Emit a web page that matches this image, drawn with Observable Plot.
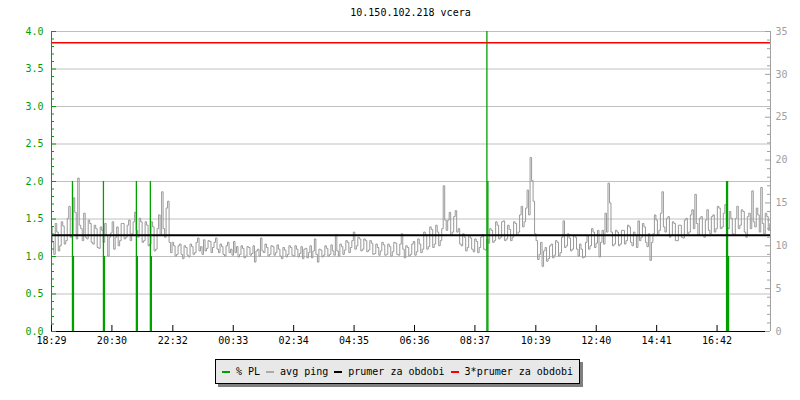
<!DOCTYPE html>
<html><head><meta charset="utf-8">
<script src="https://cdn.jsdelivr.net/npm/d3@7"></script>
<script src="https://cdn.jsdelivr.net/npm/@observablehq/plot@0.6"></script>
<style>
body{margin:0;background:#fff;}
#wrap{position:relative;width:800px;height:400px;font-family:"DejaVu Sans Mono",monospace;font-size:10px;overflow:hidden;}
#chart{position:absolute;left:0;top:0;}
#title{position:absolute;left:51px;width:719px;top:7px;text-align:center;color:#000;}
#legend{position:absolute;left:215px;top:359px;height:25px;width:365px;background:#e8e8e8;border:1px solid #000;box-shadow:3px 3px 0 #7f7f7f;display:flex;align-items:center;padding-left:6px;box-sizing:border-box;}
.sw{width:8px;height:2px;margin-right:6px;flex:none;}
.it{margin-right:6px;white-space:pre;color:#000;}
</style></head>
<body>
<div id="wrap"><div id="chart"></div><div id="title"></div><div id="legend"></div></div>
<script>
// ---- data ----
const title = "10.150.102.218 vcera";
const pingStepMinutes = 3;            // minutes between avg ping samples, starting 18:29
const avgPing = [                     // avg ping (ms), right axis
  12.2, 10.4, 9.0, 12.6, 11.6, 9.4, 10.0, 12.8, 12.3, 10.2, 10.6, 13.2, 14.6, 11.0, 11.2, 15.6, 13.9, 10.8, 17.9, 12.4,
  12.0, 10.6, 13.8, 11.0, 10.8, 13.0, 12.6, 10.4, 10.2, 12.4, 12.0, 9.8, 9.7, 12.2, 11.8, 10.4, 12.6, 11.2, 8.8, 11.0,
  11.5, 12.8, 9.6, 11.0, 12.2, 10.0, 10.6, 12.6, 12.6, 10.8, 11.0, 12.4, 13.0, 10.6, 11.4, 12.8, 13.9, 11.8, 11.0, 13.2,
  12.8, 10.4, 10.6, 12.8, 12.4, 10.0, 10.2, 12.8, 12.2, 9.4, 9.6, 12.0, 13.6, 11.2, 16.3, 12.0, 11.0, 14.4, 15.2, 10.4,
  9.2, 10.4, 10.0, 8.8, 9.0, 10.0, 10.2, 9.0, 8.5, 10.0, 9.8, 8.9, 8.7, 10.2, 9.9, 9.0, 9.2, 10.4, 10.9, 9.4,
  9.9, 9.0, 10.7, 9.4, 9.7, 10.6, 10.5, 9.2, 9.8, 10.4, 10.9, 9.6, 9.2, 10.2, 9.9, 9.0, 8.8, 10.0, 10.4, 9.2,
  9.6, 8.9, 10.5, 9.2, 9.9, 8.7, 9.0, 10.0, 9.7, 8.6, 8.8, 9.9, 9.8, 8.9, 9.1, 10.0, 8.1, 9.4, 9.6, 8.8,
  10.9, 9.4, 9.2, 10.2, 9.8, 8.8, 9.0, 10.0, 9.9, 8.9, 9.2, 10.1, 9.6, 8.8, 8.5, 9.8, 9.5, 8.7, 9.0, 10.0,
  9.8, 8.9, 8.8, 10.0, 9.6, 8.7, 9.1, 9.9, 8.5, 9.6, 9.7, 8.6, 9.2, 10.0, 8.6, 9.4, 10.8, 9.0, 8.1, 9.6,
  9.5, 8.7, 8.9, 10.0, 9.7, 8.8, 9.0, 10.1, 9.4, 8.9, 11.3, 9.4, 8.8, 10.2, 9.9, 9.0, 9.5, 10.6, 10.4, 9.2,
  9.8, 10.6, 11.6, 9.6, 10.0, 11.0, 10.8, 9.4, 9.6, 10.8, 10.6, 9.3, 9.5, 10.6, 10.3, 9.0, 9.1, 10.2, 9.8, 8.9,
  9.4, 10.4, 10.1, 8.9, 9.0, 10.2, 9.9, 8.8, 9.3, 10.4, 10.3, 9.0, 8.9, 10.2, 11.4, 9.6, 8.6, 10.0, 9.8, 8.8,
  9.0, 10.2, 10.5, 8.9, 9.3, 10.8, 10.2, 9.2, 9.6, 11.6, 11.3, 9.6, 9.9, 12.2, 11.9, 9.8, 10.2, 12.4, 11.6, 10.0,
  10.6, 12.0, 17.0, 13.0, 11.8, 13.0, 13.9, 11.2, 11.6, 13.4, 14.1, 11.6, 12.0, 10.2, 10.0, 11.4, 11.0, 9.4, 9.8, 11.2,
  10.9, 9.6, 9.3, 10.8, 10.5, 9.2, 9.8, 11.0, 11.3, 9.6, 9.5, 10.8, 10.3, 12.0, 11.8, 10.4, 10.6, 12.8, 12.4, 10.8,
  11.0, 12.8, 12.9, 10.6, 10.8, 12.4, 11.9, 10.6, 11.0, 12.8, 12.6, 11.2, 11.6, 13.6, 14.6, 12.2, 12.8, 14.4, 16.5, 13.6,
  20.3, 17.6, 15.2, 11.4, 10.6, 8.4, 9.0, 10.4, 7.6, 9.4, 9.8, 8.2, 8.5, 10.0, 10.2, 8.6, 8.9, 10.6, 10.4, 8.8,
  9.2, 11.0, 12.9, 9.8, 10.0, 11.4, 10.9, 9.4, 9.6, 11.2, 11.0, 9.6, 8.8, 10.2, 9.6, 8.6, 8.7, 10.4, 11.2, 9.6,
  10.0, 12.0, 11.6, 9.8, 10.3, 11.8, 8.7, 10.4, 11.8, 10.2, 13.8, 11.6, 17.3, 15.0, 11.6, 10.0, 10.2, 11.8, 11.6, 10.0,
  10.2, 11.8, 11.8, 10.2, 10.6, 12.4, 12.2, 10.4, 10.0, 11.6, 11.3, 9.8, 12.9, 10.6, 11.0, 12.6, 12.2, 10.4, 9.9, 11.4,
  8.3, 10.4, 11.4, 13.6, 13.0, 11.2, 11.8, 13.8, 16.3, 12.2, 11.6, 13.2, 13.4, 11.0, 11.2, 12.8, 12.6, 10.6, 10.6, 12.4,
  12.4, 11.0, 10.9, 13.0, 13.2, 11.4, 11.6, 13.6, 14.2, 12.0, 16.0, 12.6, 11.2, 13.2, 13.4, 11.2, 11.0, 13.0, 14.2, 11.8,
  11.4, 13.4, 13.6, 11.6, 12.0, 14.6, 14.4, 12.0, 12.2, 13.8, 14.8, 12.2, 12.0, 14.0, 13.2, 11.4, 11.2, 13.2, 14.6, 12.0,
  12.4, 14.2, 14.0, 11.6, 11.0, 13.4, 13.8, 12.0, 16.4, 12.8, 12.2, 14.4, 13.6, 11.6, 16.8, 12.6, 11.4, 13.8, 13.4, 11.8,
  12.6
];
const plMinutes = [42, 44, 104, 106, 170, 172, 198, 200, 872, 874, 1352, 1354, 1356]; // minutes after 18:29
const plPercent = [2, 1, 2, 1, 2, 1, 2, 1, 4, 2, 2, 2, 1];                          // % packet loss, left axis
const prumer = 11.23;                 // mean ping over period (ms)
const xTickMinutes = [0, 121, 243, 364, 485, 606, 727, 848, 970, 1091, 1212, 1333];
const xTickLabels = ["18:29","20:30","22:32","00:33","02:34","04:35","06:36","08:37","10:39","12:40","14:41","16:42"];
const leftTicks = [0, 0.5, 1, 1.5, 2, 2.5, 3, 3.5, 4];
const rightTicks = [0, 5, 10, 15, 20, 25, 30, 35];
const legendLabels = ["% PL", "avg ping", "prumer za obdobi", "3*prumer za obdobi"];
const legendColors = ["#00a000", "#aaaaaa", "#000000", "#ff0000"];

// ---- chart ----
const K = 35 / 4; // left axis (0..4) to right axis (0..35)
const W = 800, H = 400, mL = 51, mR = 30, mT = 31, mB = 69;
const pw = W - mL - mR, ph = H - mT - mB;
const green = "#00a000", gray = "#999999", gridC = "#c0c0c0", rgray = "#a0a0a0";
const leftMinor = d3.range(0, 41).filter(i => i % 5 !== 0).map(i => i / 10);
const rightMinor = d3.range(0, 36).filter(v => v % 5 !== 0);
const pingData = avgPing.map((v, i) => ({t: i * pingStepMinutes, v}));
const plData = plMinutes.map((t, i) => ({t, v: plPercent[i]}));

const chart = Plot.plot({
  width: W, height: H, marginLeft: mL, marginRight: mR, marginTop: mT, marginBottom: mB,
  x: {domain: [0, 1440], axis: null},
  y: {domain: [0, 35], axis: null},
  style: {fontFamily: '"DejaVu Sans Mono", monospace', fontSize: "10px", background: "transparent", overflow: "visible"},
  marks: [
    Plot.ruleY(leftTicks.slice(1), {y: d => d * K, stroke: gridC}),
    Plot.line(pingData, {x: "t", y: "v", stroke: gray, strokeWidth: 1, curve: "step"}),
    Plot.ruleX(plData, {x: "t", y1: 0, y2: d => d.v * K, stroke: green, strokeWidth: 1.3}),
    Plot.ruleY([prumer], {stroke: "#000", strokeWidth: 2}),
    Plot.ruleY([3 * prumer], {stroke: "#ff0000", strokeWidth: 1.5}),
    Plot.ruleX([0], {stroke: green}),
    Plot.ruleX([1440], {stroke: rgray}),
    Plot.ruleY([0], {stroke: "#000"}),
    Plot.ruleY(leftTicks, {y: d => d * K, stroke: green, insetRight: pw - 5}),
    Plot.ruleY(leftMinor, {y: d => d * K, stroke: green, insetRight: pw - 3}),
    Plot.ruleY(rightTicks, {y: d => d, stroke: rgray, insetLeft: pw - 5}),
    Plot.ruleY(rightMinor, {y: d => d, stroke: rgray, insetLeft: pw - 3}),
    Plot.ruleX(xTickMinutes, {x: d => d, stroke: "#000", insetTop: ph - 6}),
    Plot.text(leftTicks, {y: d => d * K, text: d => d.toFixed(1), frameAnchor: "left", textAnchor: "end", dx: -8, fill: green}),
    Plot.text(rightTicks, {y: d => d, text: d => String(d), frameAnchor: "right", textAnchor: "start", dx: 5, fill: rgray}),
    Plot.text(xTickMinutes, {x: d => d, text: (d, i) => xTickLabels[i], frameAnchor: "bottom", lineAnchor: "top", dy: 5, fill: "#000"})
  ]
});
document.getElementById("chart").appendChild(chart);
document.getElementById("title").textContent = title;
const lg = document.getElementById("legend");
legendLabels.forEach((lab, i) => {
  const s = document.createElement("span"); s.className = "sw"; s.style.background = legendColors[i]; lg.appendChild(s);
  const t = document.createElement("span"); t.className = "it"; t.textContent = lab; lg.appendChild(t);
});
</script>
</body></html>
